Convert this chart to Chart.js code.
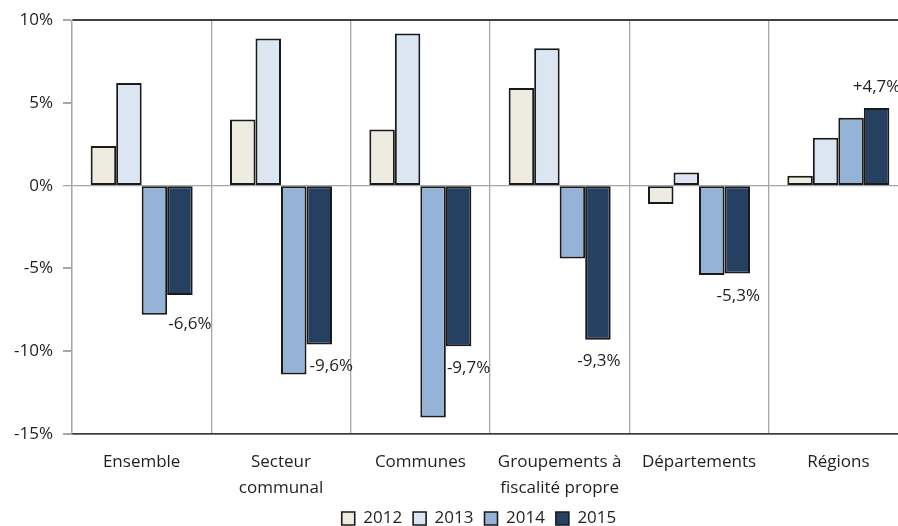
<!DOCTYPE html>
<html lang="fr">
<head>
<meta charset="utf-8">
<script src="https://cdn.jsdelivr.net/npm/chart.js@4/dist/chart.umd.min.js"></script>
<style>
  html, body { margin: 0; padding: 0; background: #fff; overflow: hidden; }
  #wrap { width: 908px; height: 537px; }
</style>
</head>
<body>
<div id="wrap"><canvas id="c" width="908" height="537"></canvas></div>
<script>
// Évolution annuelle par niveau de collectivité (en %)
const categories = ['Ensemble', ['Secteur', 'communal'], 'Communes', ['Groupements à', 'fiscalité propre'], 'Départements', 'Régions'];
const years = ['2012', '2013', '2014', '2015'];
const values2012 = [2.4, 4.0, 3.4, 5.9, -1.1, 0.6];
const values2013 = [6.2, 8.9, 9.2, 8.3, 0.8, 2.9];
const values2014 = [-7.8, -11.4, -14.0, -4.4, -5.4, 4.1];
const values2015 = [-6.6, -9.6, -9.7, -9.3, -5.3, 4.7];
const yTicks = [-15, -10, -5, 0, 5, 10];

const colors = ['#EEECE1', '#DCE6F2', '#95B3D7', '#254061'];
const font = { family: '"Open Sans", "Noto Sans", sans-serif', size: 17 };
const textColor = '#1f1f1f';

// Décalage (px) des étiquettes 2015 par rapport à l'extrémité de la barre
const labelNudge = [[10, 29], [12, 22], [10, 22], [1, 22], [1, 23], [0, -21]];
// Décalage horizontal de la légende
const legendShift = 25;

const fmt = v => (v > 0 ? '+' : '') + v.toFixed(1).replace('.', ',') + '%';

const valueLabels = {
  id: 'valueLabels',
  afterDatasetsDraw(chart) {
    const ctx = chart.ctx;
    const meta = chart.getDatasetMeta(3);
    ctx.save();
    ctx.font = `${font.size}px ${font.family}`;
    ctx.fillStyle = textColor;
    ctx.textAlign = 'center';
    ctx.textBaseline = 'middle';
    meta.data.forEach((bar, i) => {
      const [dx, dy] = labelNudge[i];
      ctx.fillText(fmt(values2015[i]), bar.x + dx, bar.y + dy);
    });
    ctx.restore();
  }
};

const moveLegend = {
  id: 'moveLegend',
  afterLayout(chart) {
    chart.legend.left += legendShift;
    chart.legend.right += legendShift;
  }
};

const series = [values2012, values2013, values2014, values2015];

function draw() {
  new Chart(document.getElementById('c'), {
    type: 'bar',
    data: {
      labels: categories,
      datasets: series.map((d, i) => ({
        label: years[i],
        data: d,
        backgroundColor: colors[i],
        borderColor: '#1a1a1a',
        borderWidth: 2,
        borderSkipped: false,
        categoryPercentage: 0.732,
        barPercentage: 1.0
      }))
    },
    options: {
      responsive: false,
      animation: false,
      layout: { padding: { top: 19, right: 0, bottom: 0, left: 0 } },
      plugins: {
        tooltip: { enabled: false },
        legend: {
          position: 'bottom',
          labels: {
            font: font,
            color: textColor,
            boxWidth: 13,
            boxHeight: 13,
            padding: 11,
            generateLabels(chart) {
              return chart.data.datasets.map((ds, i) => ({
                text: ds.label,
                fillStyle: ds.backgroundColor,
                strokeStyle: '#1a1a1a',
                lineWidth: 1.6,
                datasetIndex: i,
                fontColor: textColor
              }));
            }
          }
        }
      },
      scales: {
        x: {
          grid: {
            offset: true,
            color: '#a6a6a6',
            lineWidth: 1.3,
            drawTicks: false
          },
          border: { color: '#404040', width: 1.8 },
          ticks: {
            font: { ...font, lineHeight: 1.55 },
            color: textColor,
            padding: 15,
            maxRotation: 0,
            autoSkip: false
          },
          afterFit(scale) { scale.height = 65; }
        },
        y: {
          min: -15,
          max: 10,
          afterBuildTicks(scale) { scale.ticks = yTicks.map(v => ({ value: v })); },
          grid: {
            color: c => c.tick.value === 0 ? '#a6a6a6' : (c.tick.value === 10 ? '#404040' : 'rgba(0,0,0,0)'),
            lineWidth: c => c.tick.value === 0 ? 1.3 : 2,
            tickColor: '#a6a6a6',
            tickLength: 9
          },
          border: { color: '#a6a6a6', width: 1.3 },
          ticks: {
            font: font,
            color: textColor,
            padding: 10,
            callback: v => v + '%'
          },
          afterFit(scale) { scale.width = 72; }
        }
      }
    },
    plugins: [valueLabels, moveLegend]
  });
}

// Les mesures de texte doivent se faire avec la police définitive
Promise.all([
  document.fonts.load(`${font.size}px "Open Sans"`),
  document.fonts.load(`${font.size}px "Noto Sans"`)
]).then(draw, draw);
</script>
</body>
</html>
